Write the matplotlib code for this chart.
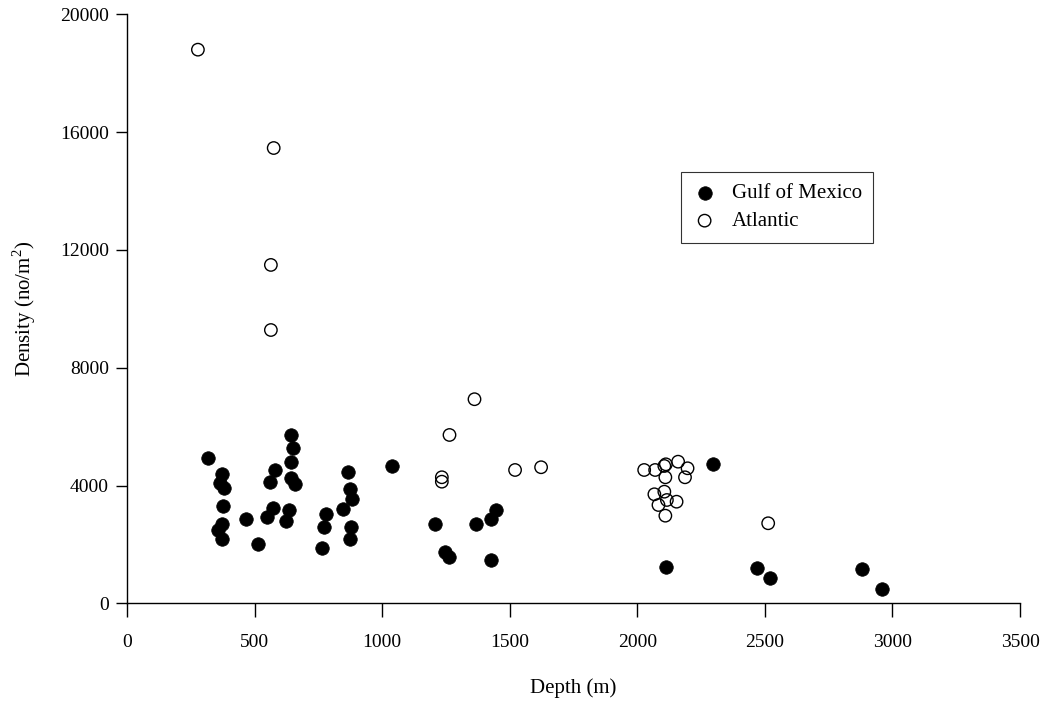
import matplotlib.pyplot as plt

plt.rcParams['font.family'] = ['Liberation Serif', 'DejaVu Serif']
plt.rcParams['mathtext.fontset'] = 'custom'
plt.rcParams['mathtext.rm'] = 'Liberation Serif'

# depth (m) and density (no/m2)
gulf_depth = [318, 371, 364, 381, 377, 373, 358, 373, 468, 514,
              579, 562, 573, 549, 642, 651, 642, 642, 658, 635,
              622, 779, 771, 766, 866, 875, 881, 847, 877, 873,
              1040, 1208, 1245, 1262, 1369, 1425, 1447, 1427, 2295, 2114,
              2470, 2521, 2882, 2958]
gulf_density = [4945, 4380, 4075, 3925, 3305, 2693, 2490, 2184, 2853, 2003,
                4527, 4109, 3226, 2942, 5716, 5285, 4788, 4245, 4041, 3168,
                2805, 3033, 2581, 1868, 4449, 3871, 3532, 3192, 2581, 2184,
                4673, 2693, 1732, 1562, 2693, 2853, 3168, 1470, 4720, 1236,
                1199, 860, 1170, 490]

atl_depth = [278, 575, 564, 564, 1264, 1362, 1234, 1234, 1521, 1623,
             2027, 2070, 2106, 2112, 2110, 2160, 2197, 2187, 2067, 2106,
             2116, 2083, 2154, 2110, 2513]
atl_density = [18800, 15460, 11490, 9280, 5716, 6930, 4280, 4130, 4527, 4620,
               4527, 4527, 4663, 4720, 4279, 4809, 4585, 4279, 3702, 3790,
               3508, 3338, 3450, 2975, 2718]

xticks = [0, 500, 1000, 1500, 2000, 2500, 3000, 3500]
yticks = [0, 4000, 8000, 12000, 16000, 20000]

fig = plt.figure(figsize=(10.52, 7.02), dpi=100, facecolor='white')
ax = fig.add_axes([0.1207, 0.1406, 0.8489, 0.839])

ax.scatter(gulf_depth, gulf_density, s=95, c='black', edgecolors='black',
           linewidths=0.5, label='Gulf of Mexico', zorder=3)
ax.scatter(atl_depth, atl_density, s=80, facecolors='none', edgecolors='black',
           linewidths=1.0, label='Atlantic', zorder=3)

ax.set_xlim(0, 3500)
ax.set_ylim(0, 20000)
ax.set_xticks(xticks)
ax.set_yticks(yticks)
ax.spines['top'].set_visible(False)
ax.spines['right'].set_visible(False)
for s in ['left', 'bottom']:
    ax.spines[s].set_linewidth(1.0)
ax.tick_params(axis='x', direction='out', length=10, width=1, pad=12, labelsize=14)
ax.tick_params(axis='y', direction='out', length=8, width=1, pad=5, labelsize=14)

ax.set_xlabel('Depth (m)', fontsize=15, labelpad=20)
ax.set_ylabel('Density (no/m$^2$)', fontsize=15, labelpad=16)

leg = ax.legend(loc='upper left', bbox_to_anchor=(0.62, 0.732), fontsize=15,
                frameon=True, fancybox=False, edgecolor='black',
                handletextpad=0.7, borderpad=0.55, labelspacing=0.4,
                handlelength=1.2, borderaxespad=0)
leg.get_frame().set_linewidth(0.8)

plt.savefig('out.png', dpi=100)
